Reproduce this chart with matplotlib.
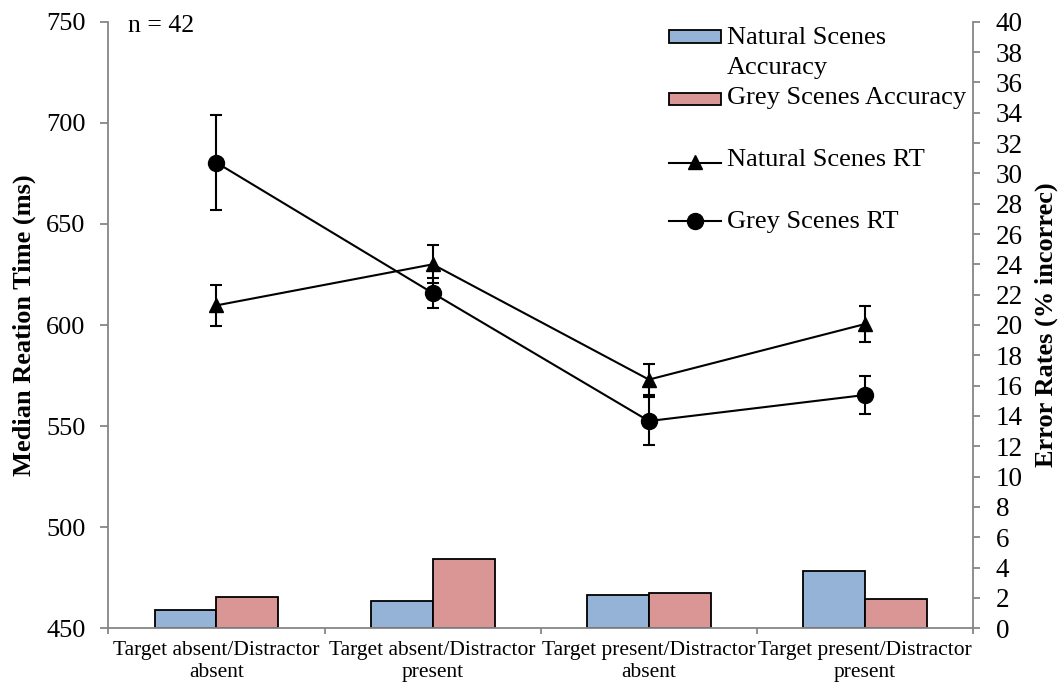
import matplotlib
matplotlib.use("Agg")
import matplotlib.pyplot as plt
from matplotlib.patches import Rectangle
from matplotlib.lines import Line2D
import numpy as np

plt.rcParams['font.family'] = ['Liberation Serif', 'DejaVu Serif']

categories = ["Target absent/Distractor\nabsent", "Target absent/Distractor\npresent",
              "Target present/Distractor\nabsent", "Target present/Distractor\npresent"]
nat_acc = [1.2, 1.8, 2.2, 3.75]
grey_acc = [2.05, 4.55, 2.3, 1.9]
nat_rt = [609.7, 630.0, 573.0, 600.5]
nat_err = [10.0, 9.4, 7.8, 8.9]
grey_rt = [680.3, 615.8, 552.5, 565.4]
grey_err = [23.5, 7.4, 11.7, 9.6]
left_ticks = [450, 500, 550, 600, 650, 700, 750]
right_ticks = list(range(0, 41, 2))

BLUE = '#95B3D7'
RED = '#D99694'
GRAY = '#868686'
W, H = 1064, 691

fig = plt.figure(figsize=(W / 100, H / 100), dpi=100)
ax = fig.add_axes([108.3 / W, 1 - 628.3 / H, (973.3 - 108.3) / W, (628.3 - 21.7) / H])
ax2 = ax.twinx()
ax.set_zorder(ax2.get_zorder() + 1)
ax.patch.set_visible(False)

x = np.arange(len(categories))
bw = 0.286
ax2.bar(x - bw / 2, nat_acc, bw, color=BLUE, edgecolor='black', linewidth=1.3, zorder=2)
ax2.bar(x + bw / 2, grey_acc, bw, color=RED, edgecolor='black', linewidth=1.3, zorder=2)

ax.errorbar(x, nat_rt, yerr=nat_err, color='black', marker='^', markersize=10.5,
            linewidth=1.5, elinewidth=1.5, capsize=4.5, capthick=1.5)
ax.errorbar(x, grey_rt, yerr=grey_err, color='black', marker='o', markersize=11.5,
            linewidth=1.5, elinewidth=1.5, capsize=4.5, capthick=1.5)

ax.set_xlim(-0.5, len(categories) - 0.5)
ax.set_ylim(450, 750)
ax2.set_ylim(0, 40)
ax.set_yticks(left_ticks)
ax2.set_yticks(right_ticks)

for a in (ax, ax2):
    for s in a.spines.values():
        s.set_color(GRAY)
        s.set_linewidth(1.3)
    a.spines['top'].set_visible(False)
ax.spines['right'].set_visible(False)
ax2.spines['left'].set_visible(False)
ax2.spines['bottom'].set_visible(False)

ax.tick_params(axis='y', direction='out', length=5.8, width=1.3, color=GRAY, pad=10.5, labelsize=19)
ax2.tick_params(axis='y', direction='out', length=5.2, width=1.3, color=GRAY, pad=11, labelsize=19.5)

ax.set_xticks(np.arange(-0.5, len(categories), 1.0))
ax.set_xticklabels([])
ax.tick_params(axis='x', which='major', direction='out', length=4.5, width=1.3, color=GRAY)
ax.set_xticks(x, minor=True)
ax.set_xticklabels(categories, minor=True, fontsize=15.5, linespacing=1.2)
ax.tick_params(axis='x', which='minor', length=0, pad=9.5)

fig.text(24 / W, 1 - 325 / H, "Median Reation Time (ms)", rotation=90, ha='center', va='center',
         fontsize=19, fontweight='bold')
fig.text(1046.5 / W, 1 - 325 / H, "Error Rates (% incorrec)", rotation=90, ha='center', va='center',
         fontsize=19, fontweight='bold')
fig.text(128 / W, 1 - 31.7 / H, "n = 42", ha='left', va='baseline', fontsize=18.5)

# legend (drawn manually to mimic layout)
def fy(y):
    return 1 - y / H

lx0, lx1, tx = 669 / W, 721 / W, 727 / W
fig.patches.append(Rectangle((lx0, fy(43)), lx1 - lx0, 13 / H, transform=fig.transFigure,
                             facecolor=BLUE, edgecolor='black', linewidth=1.3))
fig.patches.append(Rectangle((lx0, fy(104.5)), lx1 - lx0, 12 / H, transform=fig.transFigure,
                             facecolor=RED, edgecolor='black', linewidth=1.3))
fig.lines.append(Line2D([lx0, lx1], [fy(163), fy(163)], transform=fig.transFigure, color='black', linewidth=1.5))
fig.lines.append(Line2D([(lx0 + lx1) / 2], [fy(162)], transform=fig.transFigure, color='black',
                        marker='^', markersize=10.5, linestyle='none'))
fig.lines.append(Line2D([lx0, lx1], [fy(221), fy(221)], transform=fig.transFigure, color='black', linewidth=1.5))
fig.lines.append(Line2D([(lx0 + lx1) / 2], [fy(221)], transform=fig.transFigure, color='black',
                        marker='o', markersize=11.5, linestyle='none'))
fig.text(tx, fy(44), "Natural Scenes", va='baseline', ha='left', fontsize=19)
fig.text(tx, fy(74), "Accuracy", va='baseline', ha='left', fontsize=19)
fig.text(tx, fy(104), "Grey Scenes Accuracy", va='baseline', ha='left', fontsize=19)
fig.text(tx, fy(166), "Natural Scenes RT", va='baseline', ha='left', fontsize=19)
fig.text(tx, fy(228), "Grey Scenes RT", va='baseline', ha='left', fontsize=19)

fig.savefig("out.png", dpi=100)
